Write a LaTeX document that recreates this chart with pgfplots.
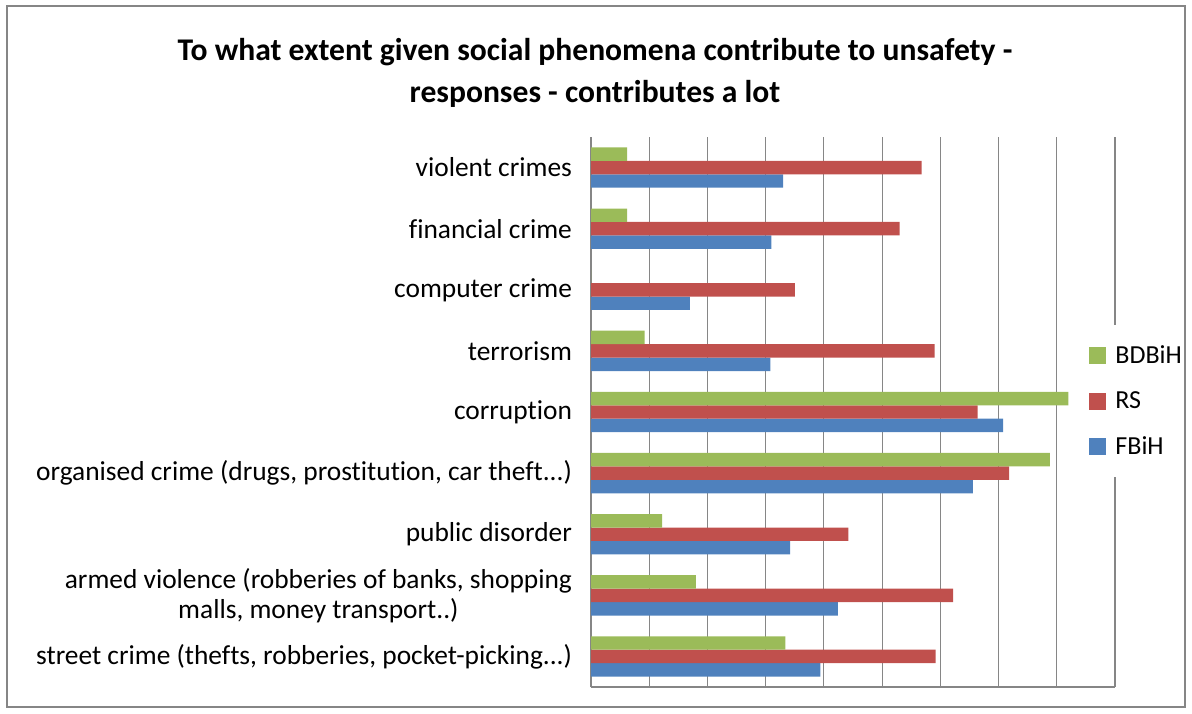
\documentclass[border=0pt]{standalone}
\usepackage{pgfplots}
\pgfplotsset{compat=1.18}
\usepackage{fontspec}
\setmainfont{Carlito}[Ligatures={NoCommon}]
\definecolor{cB}{HTML}{4F81BD}
\definecolor{cR}{HTML}{C0504D}
\definecolor{cG}{HTML}{9BBB59}
\definecolor{grd}{HTML}{868686}
\newcommand\ddd{...}
\newcommand\dd{..}
\begin{document}
\begin{tikzpicture}
\path (0,0) rectangle (596pt,356.5pt);
\node[font=\bfseries\fontsize{15.8}{21.2}\selectfont, align=center] at (297.5pt,320pt)
  {To what extent given social phenomena contribute to unsafety -\\responses - contributes a lot};
\begin{axis}[
  at={(295.5pt,13pt)}, anchor=south west, scale only axis,
  width=262pt, height=275pt,
  xmin=0, xmax=45, ymin=-0.5, ymax=8.5,
  xtick={0,5,...,45}, xticklabels={},
  xmajorgrids, major grid style={grd, line width=0.6pt},
  ytick={0,...,8},
  yticklabels={{street crime (thefts, robberies, pocket-picking\ddd)},
    {armed violence (robberies of banks, shopping\\malls, money transport\dd)},
    {public disorder},
    {organised crime (drugs, prostitution, car theft\ddd)},
    {corruption}, {terrorism}, {computer crime}, {financial crime}, {violent crimes}},
  major tick length=0pt,
  axis lines*=left, axis line style={grd, line width=0.75pt},
  yticklabel style={font=\fontsize{13.7}{15}\selectfont, align=center, xshift=-6pt},
  reverse legend,
  legend image code/.code={\fill[#1] (0pt,-4.25pt) rectangle (8.5pt,4.25pt);},
  legend style={draw=none, fill=white, at={(0.939,0.5195)}, anchor=west,
    inner xsep=3pt, inner ysep=8pt, row sep=8.5pt,
    font=\fontsize{13}{15}\selectfont, cells={anchor=west},
    /tikz/every odd column/.append style={column sep=2.5pt}},
]
\addplot[xbar, bar width=0.22, bar shift=-0.22, fill=cB, draw=none] coordinates {
  (19.7,0) (21.2,1) (17.1,2) (32.8,3) (35.4,4) (15.4,5) (8.5,6) (15.5,7) (16.5,8)};
\addlegendentry{FBiH}
\addplot[xbar, bar width=0.22, bar shift=0, fill=cR, draw=none] coordinates {
  (29.6,0) (31.1,1) (22.1,2) (35.9,3) (33.2,4) (29.5,5) (17.5,6) (26.5,7) (28.4,8)};
\addlegendentry{RS}
\addplot[xbar, bar width=0.22, bar shift=0.22, fill=cG, draw=none] coordinates {
  (16.7,0) (9.0,1) (6.1,2) (39.4,3) (41.0,4) (4.6,5) (0,6) (3.1,7) (3.1,8)};
\addlegendentry{BDBiH}
\end{axis}
\fill[white] (592.5pt,0pt) rectangle (596pt,356.5pt);
\draw[grd, line width=1pt] (3.5pt,3pt) rectangle (592.5pt,353.5pt);
\end{tikzpicture}
\end{document}
